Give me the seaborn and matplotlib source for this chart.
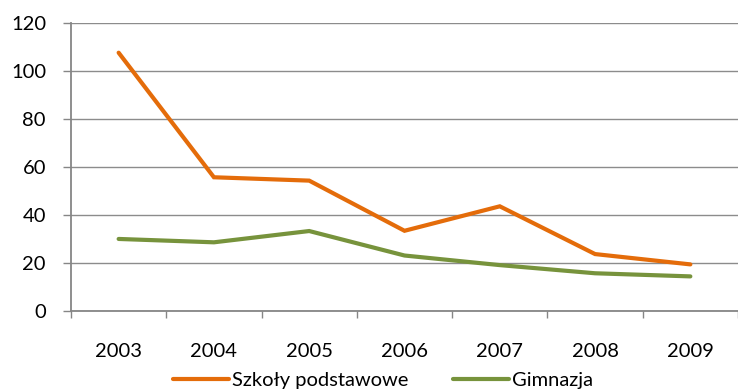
import matplotlib
matplotlib.use("Agg")
import matplotlib.pyplot as plt
import seaborn as sns
import pandas as pd

years = ["2003", "2004", "2005", "2006", "2007", "2008", "2009"]
szkoly_podstawowe = [107.5, 55.6, 54.2, 33.3, 43.5, 23.6, 19.3]
gimnazja = [29.9, 28.5, 33.2, 23.0, 19.0, 15.6, 14.3]
series_names = ["Szkoły podstawowe", "Gimnazja"]
y_ticks = [0, 20, 40, 60, 80, 100, 120]

sns.set_theme(style="white")
plt.rcParams["font.family"] = ["Lato", "DejaVu Sans"]
plt.rcParams["text.color"] = "black"
plt.rcParams["xtick.color"] = "black"
plt.rcParams["ytick.color"] = "black"

df = pd.DataFrame({
    "rok": years * 2,
    "wartosc": szkoly_podstawowe + gimnazja,
    "typ": [series_names[0]] * len(years) + [series_names[1]] * len(years),
})
df["pos"] = list(range(len(years))) * 2

fig = plt.figure(figsize=(7.38, 3.90), dpi=100)
ax = fig.add_axes([0.0962, 0.2033, 0.9038, 0.7385])

palette = {series_names[0]: "#E46C0A", series_names[1]: "#77933C"}
sns.lineplot(data=df, x="pos", y="wartosc", hue="typ", palette=palette,
             linewidth=3.0, ax=ax, legend=False, solid_capstyle="round")
for line in ax.lines:
    line.set_solid_joinstyle("miter")

ax.set_xlim(-0.5, 6.385)
ax.set_ylim(0, 120)
ax.set_yticks(y_ticks)
ax.set_yticklabels([str(t) for t in y_ticks])
ax.set_xticks([i + 0.5 for i in range(-1, len(years))], minor=False)
ax.set_xticklabels([])
ax.set_xticks(range(len(years)), minor=True)
ax.set_xticklabels(years, minor=True)
ax.set_xlabel("")
ax.set_ylabel("")

ax.yaxis.grid(True, color="#8C8C8C", linewidth=1.0)
ax.set_axisbelow(True)
for side in ["top", "right"]:
    ax.spines[side].set_visible(False)
for side in ["left", "bottom"]:
    ax.spines[side].set_color("#868686")
    ax.spines[side].set_linewidth(1.3)

ax.tick_params(axis="y", which="major", direction="out", length=6, width=1,
               color="#868686", labelsize=14.5, pad=12, left=True)
ax.tick_params(axis="x", which="major", direction="out", length=5, width=1,
               color="#868686", bottom=True)
ax.tick_params(axis="x", which="minor", length=0, labelsize=14.5, pad=23)

handles = [plt.Line2D([], [], color=palette[n], linewidth=3.0) for n in series_names]
fig.legend(handles, series_names, loc="lower center", ncol=2, frameon=False,
           fontsize=14.5, handlelength=2.8, handletextpad=0.15, columnspacing=2.2,
           bbox_to_anchor=(0.519, -0.045))

fig.savefig("out.png", dpi=100)
